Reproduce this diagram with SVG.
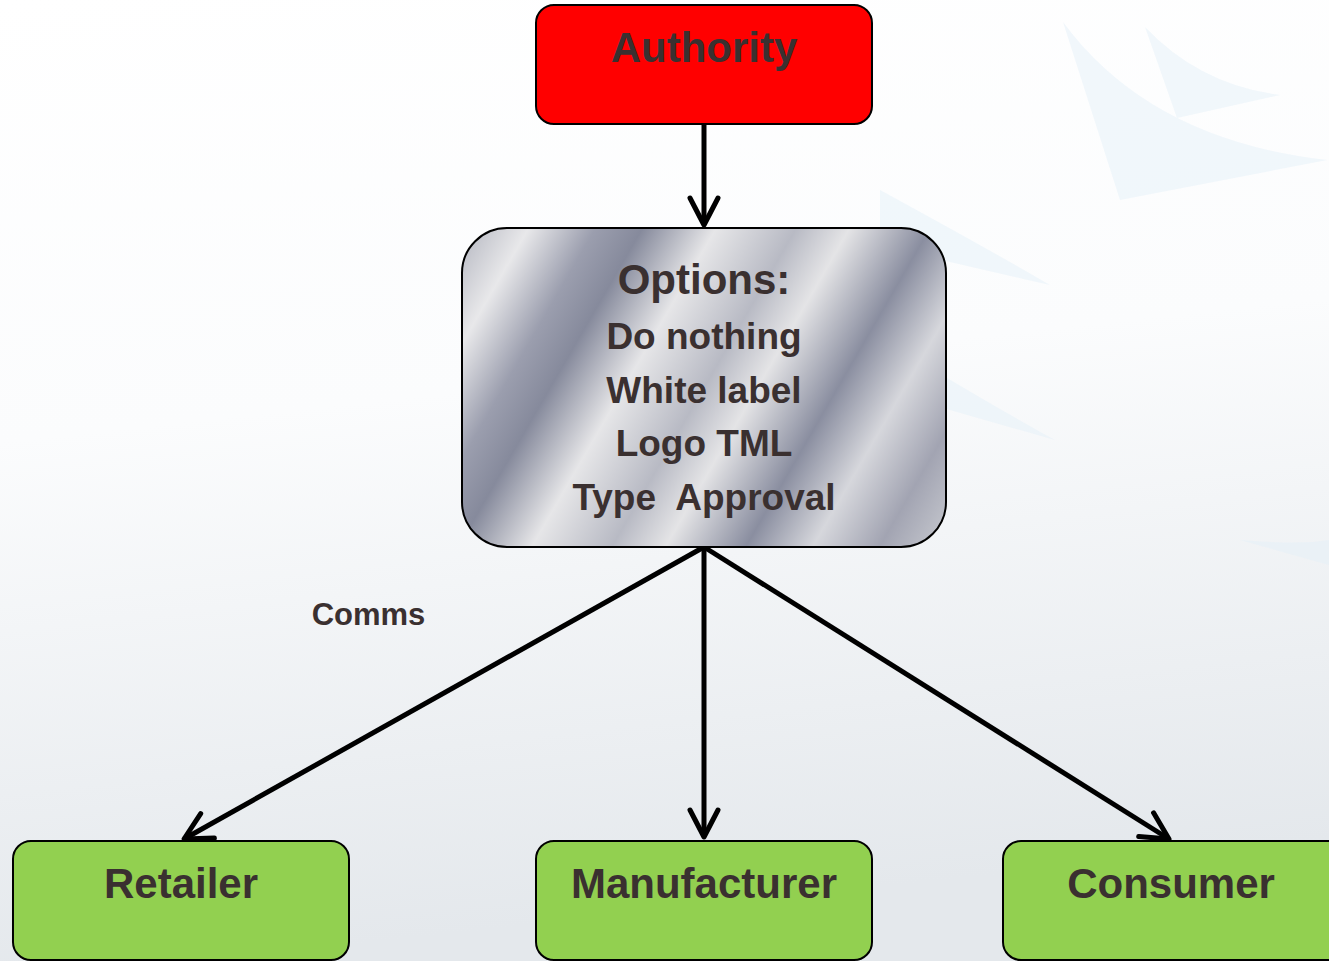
<svg xmlns="http://www.w3.org/2000/svg" width="1329" height="961" viewBox="0 0 1329 961">
<defs>
<linearGradient id="bg" x1="0" y1="0" x2="0.15" y2="1">
<stop offset="0" stop-color="#ffffff"/>
<stop offset="0.45" stop-color="#fbfcfd"/>
<stop offset="1" stop-color="#e4e8ec"/>
</linearGradient>
<linearGradient id="metal" gradientUnits="userSpaceOnUse" x1="462" y1="228" x2="963" y2="518">
<stop offset="0" stop-color="#b4b6c0"/>
<stop offset="0.1" stop-color="#e8e8ea"/>
<stop offset="0.2" stop-color="#9b9eae"/>
<stop offset="0.27" stop-color="#868a9c"/>
<stop offset="0.38" stop-color="#e6e6e8"/>
<stop offset="0.5" stop-color="#b8bac4"/>
<stop offset="0.58" stop-color="#e4e4e6"/>
<stop offset="0.7" stop-color="#8a8ea0"/>
<stop offset="0.8" stop-color="#d6d7dc"/>
<stop offset="0.9" stop-color="#a2a4b2"/>
<stop offset="1" stop-color="#c8cad0"/>
</linearGradient>
<marker id="arr" viewBox="-40 -25 50 50" markerWidth="50" markerHeight="50" refX="0" refY="0" orient="auto" markerUnits="userSpaceOnUse" overflow="visible">
<path d="M-27,-14 L0,0 L-27,14" fill="none" stroke="#000" stroke-width="5" stroke-linecap="round" stroke-linejoin="round"/>
</marker>
<style>
.box{stroke:#000;stroke-width:2}
.red{fill:#ff0000}
.green{fill:#92d050}
.t{font-family:"Liberation Sans",Arial,sans-serif;font-weight:bold;fill:#3a3030;text-anchor:middle}
.conn{stroke:#000;stroke-width:5;fill:none;marker-end:url(#arr)}
.tri{fill:#e2eff8;opacity:0.45}
</style>
</defs>
<rect width="1329" height="961" fill="url(#bg)"/>
<g id="background">
<path class="tri" d="M1063,22 Q1150,140 1327,160 L1120,200 Z"/>
<path class="tri" d="M1145,27 Q1200,85 1280,95 L1177,118 Z"/>
<path class="tri" d="M880,190 Q990,250 1050,285 L950,262 Q900,250 880,240 Z" opacity="0.3"/>
<path class="tri" d="M900,350 Q1000,410 1055,440 L950,410 Q920,400 900,395 Z" opacity="0.3"/>
<path class="tri" d="M1240,540 Q1300,545 1329,540 L1329,565 Z" opacity="0.5"/>
</g>
<g id="connectors">
<line class="conn" x1="704" y1="124" x2="704" y2="225"/>
<line class="conn" x1="704" y1="547" x2="184" y2="839"/>
<line class="conn" x1="704" y1="547" x2="704" y2="837"/>
<line class="conn" x1="704" y1="547" x2="1169" y2="839"/>
</g>
<g id="authority">
<rect class="box red" x="536" y="5" width="336" height="119" rx="18"/>
<text class="t" x="704" y="62" font-size="42">Authority</text>
</g>
<g id="options">
<rect class="box" x="462" y="228" width="484" height="319" rx="45" fill="url(#metal)"/>
<text class="t" x="704" y="294" font-size="42">Options:</text>
<text class="t" x="704" y="349" font-size="37">Do nothing</text>
<text class="t" x="704" y="403" font-size="37">White label</text>
<text class="t" x="704" y="456" font-size="37">Logo TML</text>
<text class="t" x="704" y="510" font-size="37" xml:space="preserve">Type  Approval</text>
</g>
<g id="comms">
<text class="t" x="368.5" y="625" font-size="31">Comms</text>
</g>
<g id="retailer">
<rect class="box green" x="13" y="841" width="336" height="119" rx="18"/>
<text class="t" x="181" y="898" font-size="42">Retailer</text>
</g>
<g id="manufacturer">
<rect class="box green" x="536" y="841" width="336" height="119" rx="18"/>
<text class="t" x="704" y="898" font-size="42">Manufacturer</text>
</g>
<g id="consumer">
<rect class="box green" x="1003" y="841" width="345" height="119" rx="18"/>
<text class="t" x="1171" y="898" font-size="42">Consumer</text>
</g>
</svg>
